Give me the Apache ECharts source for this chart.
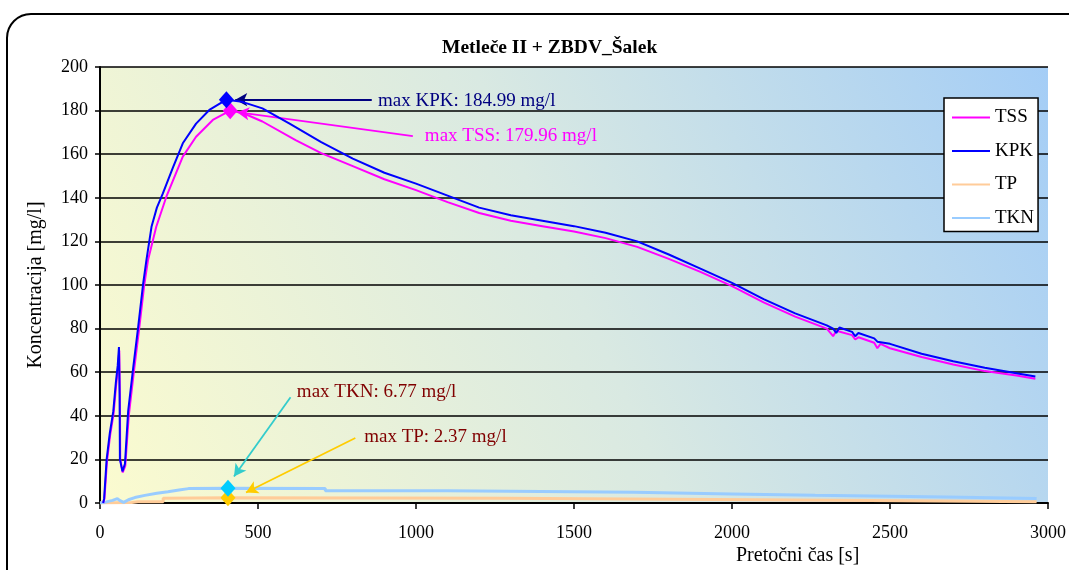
<!DOCTYPE html>
<html>
<head>
<meta charset="utf-8">
<script src="https://cdn.jsdelivr.net/npm/echarts@6/dist/echarts.min.js"></script>
<style>html,body{margin:0;padding:0;background:#fff;overflow:hidden;}#c{width:1069px;height:570px;}</style>
</head>
<body>
<div id="c"></div>
<script>
// ---- data ----
var chartTitle = 'Metleče II + ZBDV_Šalek';
var xAxisName = 'Pretočni čas [s]';
var yAxisName = 'Koncentracija [mg/l]';
var seriesNames = ['TSS', 'KPK', 'TP', 'TKN'];
var unitLabel = 'mg/l';

var kpkTime = [10,13,21,31,42,50,56,60,62,63,71,79,89,105,121,136,147,163,180,199,231,262,304,346,400,450,514,600,700,800,900,1000,1100,1200,1300,1400,1500,1600,1700,1800,1900,2000,2100,2200,2300,2320,2330,2340,2380,2390,2400,2450,2460,2500,2600,2700,2800,2900,2960];
var kpkValues = [0,2,20,32,42,55,63,71.5,50,20,14.5,18,42,62,81,100,111.5,126.7,135.5,142,154,165,174,180.3,184.99,184,181,174,165.5,158,151.5,146.5,141,135.5,132,129.5,127,124,120,114,107.5,101,93.5,87,81.5,80,78,80.5,78.5,76.5,78,75.5,74,73,68.5,65,62,59.5,58];

var tssTime = [10,14,22,32,43,51,57,61,63,64,72,80,91,107,124,140,152,178,210,262,304,357,412,450,514,619,700,800,900,1000,1100,1200,1300,1400,1500,1600,1700,1800,1900,2000,2100,2200,2300,2320,2330,2380,2390,2400,2450,2460,2470,2500,2600,2700,2800,2900,2960];
var tssValues = [0,2,19,31,41,54,62,70,48,20,14,17,40,60,80,100,111.5,126.7,140.5,158.9,168,175.7,179.96,179,175,166.5,160.5,154.5,148.5,143.5,138,133,129.5,127,124.5,121.5,117.5,112,106,99.5,92,85.5,80,76.5,79,77,75,76,73.5,71,73,71,67,63.5,60.5,58.5,57];

var tpTime = [0,100,120,200,200,405,1278,1278,2334,2334,2964];
var tpValues = [0,0.2,0.6,0.6,2.2,2.37,2.2,1.3,1.3,0.6,0.6];

var tknTime = [0,20,40,55,62,75,90,110,142,180,215,250,280,405,713,713,1100,1100,1690,1690,2000,2000,2263,2263,2680,2680,2964];
var tknValues = [0,0.5,1.2,2,1.2,0.3,1.5,2.5,3.5,4.5,5.2,6,6.6,6.77,6.6,5.6,5.6,4.9,4.9,4.1,4.1,3.5,3.5,2.8,2.8,2.1,2.1];

var xTicks = {min: 0, max: 3000, interval: 500};
var yTicks = {min: 0, max: 200, interval: 20};

// ---- helpers ----
function pairs(t, v) { return t.map(function (x, i) { return [x, v[i]]; }); }
function maxPoint(t, v) {
  var bi = 0;
  for (var i = 1; i < v.length; i++) if (v[i] > v[bi]) bi = i;
  return [t[bi], v[bi]];
}

// annotation geometry (data space): label anchor, arrow start, arrow tip
var annot = {
  KPK: {label: [880, 184.5], from: [860, 185], to: [428, 185], text: '#000080', arrow: '#000080'},
  TSS: {label: [1028, 168.3], from: [990, 168.3], to: [434, 179.3], text: '#ff00ff', arrow: '#ff00ff'},
  TKN: {label: [623, 50.8], from: [603, 48.5], to: [424, 12.2], text: '#800000', arrow: '#33cccc'},
  TP: {label: [836, 30.4], from: [808, 29.8], to: [462, 4.8], text: '#800000', arrow: '#ffcc00'}
};
var colors = {TSS: '#ff00ff', KPK: '#0000ff', TP: '#ffcc99', TKN: '#99ccff'};
var markerColors = {TSS: '#ff00ff', KPK: '#0000ff', TP: '#ffcc00', TKN: '#00ccff'};
var serif = 'Liberation Serif';

function buildSeries(name, t, v, width, z) {
  var mp = maxPoint(t, v);
  var a = annot[name];
  return {
    name: name, type: 'line', data: pairs(t, v), symbol: 'none', z: z,
    lineStyle: {color: colors[name], width: width}, itemStyle: {color: colors[name]},
    animation: false,
    markPoint: {
      animation: false,
      data: [
        {coord: mp, symbol: 'diamond', symbolSize: [15, 17], itemStyle: {color: markerColors[name]}, label: {show: false}},
        {coord: a.label, symbol: 'circle', symbolSize: 0,
          label: {show: true, position: 'right', distance: 0, color: a.text, fontFamily: serif, fontSize: 19,
            formatter: 'max ' + name + ': ' + mp[1].toFixed(2) + ' ' + unitLabel}}
      ]
    },
    markLine: {
      animation: false, silent: true,
      label: {show: false},
      lineStyle: {color: a.arrow, width: 1.8, type: 'solid'},
      emphasis: {disabled: true},
      data: [[
        {coord: a.from, symbol: 'none', symbolSize: 0},
        {coord: a.to, symbol: 'arrow', symbolSize: [10, 12], itemStyle: {color: a.arrow}}
      ]]
    }
  };
}

var chart = echarts.init(document.getElementById('c'), null, {renderer: 'canvas'});
chart.setOption({
  animation: false,
  backgroundColor: '#ffffff',
  title: {text: chartTitle, left: 437, top: 33,
    textStyle: {fontFamily: serif, fontSize: 19.5, fontWeight: 'bold', color: '#000'}},
  grid: {left: 100, top: 67, width: 954, height: 436, show: true, borderWidth: 0,
    backgroundColor: {type: 'linear', x: 0, y: 1, x2: 1, y2: 0, colorStops: [
      {offset: 0, color: '#fbfbcf'}, {offset: 0.5, color: '#d9e9e2'}, {offset: 1, color: '#a4cdf6'}]}},
  legend: {
    data: seriesNames, orient: 'vertical', left: 944, top: 98,
    icon: 'rect', padding: [10, 4, 4, 8], itemGap: 14.5, itemWidth: 38, itemHeight: 2,
    backgroundColor: '#ffffff', borderColor: '#000', borderWidth: 1.5,
    textStyle: {fontFamily: serif, fontSize: 19, color: '#000', padding: [0, 0, 0, 0]}
  },
  xAxis: {
    type: 'value', min: xTicks.min, max: xTicks.max, interval: xTicks.interval,
    axisLine: {show: true, onZero: false, lineStyle: {color: '#000', width: 2}},
    axisTick: {show: true, inside: false, length: 6, lineStyle: {color: '#000', width: 1.5}},
    axisLabel: {margin: 21, fontFamily: serif, fontSize: 18, color: '#000', formatter: function (v) { return String(v); }},
    splitLine: {show: false}
  },
  yAxis: {
    type: 'value', min: yTicks.min, max: yTicks.max, interval: yTicks.interval,
    name: yAxisName, nameLocation: 'middle', nameGap: 54,
    nameTextStyle: {fontFamily: serif, fontSize: 20, color: '#000'},
    axisLine: {show: true, lineStyle: {color: '#000', width: 2}},
    axisTick: {show: true, inside: false, length: 5, lineStyle: {color: '#000', width: 1.5}},
    axisLabel: {margin: 12, fontFamily: serif, fontSize: 18, color: '#000', formatter: function (v) { return String(v); }},
    splitLine: {show: true, lineStyle: {color: '#000', width: 1.5}}
  },
  graphic: [
    {type: 'rect', shape: {x: 7, y: 14, width: 1100, height: 620, r: 24},
      style: {fill: 'none', stroke: '#000', lineWidth: 2}, silent: true, z: 100},
    {type: 'text', left: 736, top: 546, style: {text: xAxisName, font: '20px "Liberation Serif"', fill: '#000'}}
  ],
  series: [
    buildSeries('TP', tpTime, tpValues, 3, 2),
    buildSeries('TKN', tknTime, tknValues, 3, 3),
    buildSeries('TSS', tssTime, tssValues, 2, 4),
    buildSeries('KPK', kpkTime, kpkValues, 2, 5)
  ]
});
</script>
</body>
</html>
